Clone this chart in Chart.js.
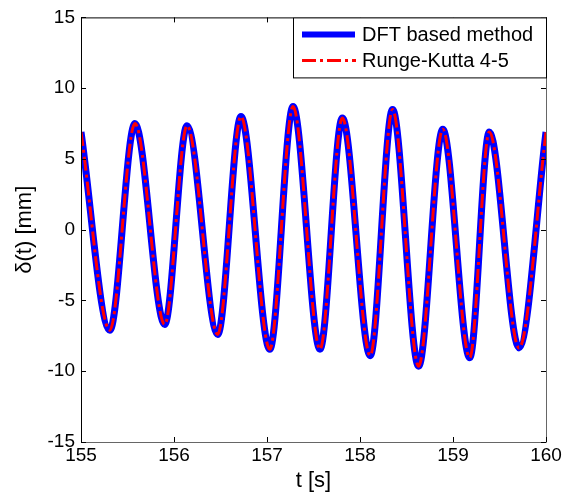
<!DOCTYPE html>
<html>
<head>
<meta charset="utf-8">
<script src="https://cdn.jsdelivr.net/npm/chart.js@4.4.1/dist/chart.umd.min.js"></script>
<style>
html,body{margin:0;padding:0;background:#fff;}
#wrap{width:572px;height:500px;position:relative;}
</style>
</head>
<body>
<div id="wrap"><canvas id="c" width="572" height="500"></canvas></div>
<script>
// Time instants (s) of the read extrema, and displacement values (mm)
const timeS = [155.00, 155.31, 155.58, 155.90, 156.14, 156.47, 156.72, 157.03, 157.28, 157.57, 157.81, 158.11, 158.35, 158.63, 158.89, 159.18, 159.39, 159.71, 160.00];
const dftValues = [6.9, -7.1, 7.5, -6.7, 7.35, -7.4, 8.0, -8.45, 8.7, -8.45, 7.9, -8.9, 8.5, -9.65, 7.1, -9.05, 6.9, -8.35, 6.9];
const rkValues  = [6.9, -7.1, 7.5, -6.7, 7.35, -7.4, 8.0, -8.45, 8.7, -8.45, 7.9, -8.9, 8.5, -9.65, 7.1, -9.05, 6.9, -8.35, 6.9];
const xTicks = [155, 156, 157, 158, 159, 160];
const yTicks = [-15, -10, -5, 0, 5, 10, 15];
const seriesNames = ['DFT based method', 'Runge-Kutta 4-5'];
const xTitle = 't [s]';
const yTitle = 'δ(t) [mm]';

const FONT = 'Arial, "Liberation Sans", Helvetica, sans-serif';
const RED_DASH = [14, 4, 3, 4];

const toPts = (vals) => vals.map((v, i) => ({x: timeS[i], y: v}));

const boxPlugin = {
  id: 'boxPlugin',
  afterDraw(chart) {
    const ctx = chart.ctx;
    const a = chart.chartArea;
    const xs = chart.scales.x, ys = chart.scales.y;
    ctx.save();
    // box
    ctx.lineWidth = 1;
    ctx.strokeStyle = '#000';
    ctx.beginPath();
    ctx.moveTo(a.left + 0.5, a.bottom + 0.5);
    ctx.lineTo(a.left + 0.5, a.top + 0.5);
    ctx.lineTo(a.right + 0.5, a.top + 0.5);
    ctx.stroke();
    ctx.strokeStyle = '#666';
    ctx.beginPath();
    ctx.moveTo(a.left + 0.5, a.bottom + 0.5);
    ctx.lineTo(a.right + 0.5, a.bottom + 0.5);
    ctx.lineTo(a.right + 0.5, a.top + 0.5);
    ctx.stroke();
    // inward ticks
    const L = 5;
    ctx.strokeStyle = '#000';
    ctx.beginPath();
    xTicks.forEach(t => {
      const px = Math.round(xs.getPixelForValue(t)) + 0.5;
      ctx.moveTo(px, a.bottom); ctx.lineTo(px, a.bottom - L);
      ctx.moveTo(px, a.top); ctx.lineTo(px, a.top + L);
    });
    yTicks.forEach(t => {
      const py = Math.round(ys.getPixelForValue(t)) + 0.5;
      ctx.moveTo(a.left, py); ctx.lineTo(a.left + L, py);
      ctx.moveTo(a.right, py); ctx.lineTo(a.right - L, py);
    });
    ctx.stroke();
    // legend
    const bx = 293, by = a.top, bw = a.right - 293, bh = 60;
    ctx.fillStyle = '#fff';
    ctx.fillRect(bx, by, bw, bh);
    ctx.strokeStyle = '#000';
    ctx.lineWidth = 1;
    ctx.strokeRect(bx + 0.5, by + 0.5, bw, bh);
    const rows = [by + 17, by + 43];
    // blue sample
    ctx.strokeStyle = '#0000ff';
    ctx.lineWidth = 6;
    ctx.setLineDash([]);
    ctx.beginPath(); ctx.moveTo(302, rows[0]); ctx.lineTo(355, rows[0]); ctx.stroke();
    // red sample
    ctx.strokeStyle = '#ff0000';
    ctx.lineWidth = 3;
    ctx.setLineDash(RED_DASH);
    ctx.beginPath(); ctx.moveTo(302, rows[1]); ctx.lineTo(356, rows[1]); ctx.stroke();
    ctx.setLineDash([]);
    ctx.fillStyle = '#000';
    ctx.font = '20px ' + FONT;
    ctx.textAlign = 'left';
    ctx.textBaseline = 'middle';
    ctx.fillText(seriesNames[0], 362, rows[0] + 1);
    ctx.fillText(seriesNames[1], 362, rows[1] + 1);
    ctx.restore();
  }
};

new Chart(document.getElementById('c'), {
  type: 'line',
  data: {
    datasets: [
      {
        label: seriesNames[0],
        data: toPts(dftValues),
        borderColor: '#0000ff',
        borderWidth: 7,
        pointRadius: 0,
        cubicInterpolationMode: 'monotone',
        fill: false,
        order: 1
      },
      {
        label: seriesNames[1],
        data: toPts(rkValues),
        borderColor: '#ff0000',
        borderWidth: 3,
        borderDash: RED_DASH,
        pointRadius: 0,
        cubicInterpolationMode: 'monotone',
        fill: false,
        order: 0
      }
    ]
  },
  options: {
    responsive: false,
    animation: false,
    devicePixelRatio: 1,
    layout: {padding: {left: 0, right: 26, top: 16, bottom: 0}},
    plugins: {legend: {display: false}, tooltip: {enabled: false}},
    scales: {
      x: {
        type: 'linear',
        min: 155, max: 160,
        afterBuildTicks: (s) => { s.ticks = xTicks.map(v => ({value: v})); },
        afterFit: (s) => { s.height = 58; },
        grid: {display: false, drawTicks: false},
        border: {display: false},
        ticks: {color: '#000', font: {family: FONT, size: 19}, padding: 2, maxRotation: 0, autoSkip: false},
        title: {display: true, text: xTitle, color: '#000', font: {family: FONT, size: 22}, padding: {top: 0, bottom: 6}}
      },
      y: {
        type: 'linear',
        min: -15, max: 15,
        afterBuildTicks: (s) => { s.ticks = yTicks.map(v => ({value: v})); },
        afterFit: (s) => { s.width = 81; },
        grid: {display: false, drawTicks: false},
        border: {display: false},
        ticks: {color: '#000', font: {family: FONT, size: 19}, padding: 6, autoSkip: false},
        title: {display: true, text: yTitle, color: '#000', font: {family: FONT, size: 22}, padding: {top: 12, bottom: 0}}
      }
    }
  },
  plugins: [boxPlugin]
});
</script>
</body>
</html>
